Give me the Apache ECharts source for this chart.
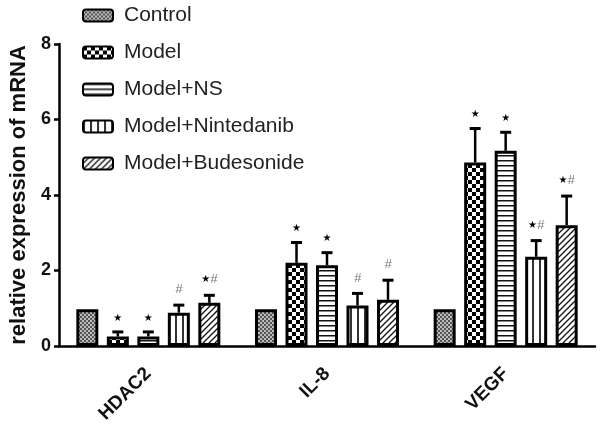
<!DOCTYPE html>
<html><head><meta charset="utf-8">
<script src="https://cdn.jsdelivr.net/npm/echarts@6/dist/echarts.min.js"></script>
<style>html,body{margin:0;padding:0;background:#fff}#c{width:600px;height:426px}</style>
</head><body><div id="c"></div>
<script>
var categories = ['HDAC2', 'IL-8', 'VEGF'];
var groupNames = ['Control', 'Model', 'Model+NS', 'Model+Nintedanib', 'Model+Budesonide'];
var controlMean = [0.97, 0.97, 0.97];
var modelMean = [0.25, 2.2, 4.86];
var nsMean = [0.25, 2.14, 5.17];
var nintMean = [0.88, 1.07, 2.36];
var budMean = [1.14, 1.22, 3.2];
var controlSd = [0, 0, 0];
var modelSd = [0.12, 0.54, 0.9];
var nsSd = [0.12, 0.33, 0.49];
var nintSd = [0.2, 0.32, 0.43];
var budSd = [0.2, 0.52, 0.77];
var controlMark = ['', '', ''];
var modelMark = ['*', '*', '*'];
var nsMark = ['*', '*', '*'];
var nintMark = ['#', '#', '*#'];
var budMark = ['*#', '#', '*#'];
var yTicks = [0, 2, 4, 6, 8];

var means = [controlMean, modelMean, nsMean, nintMean, budMean];
var sds = [controlSd, modelSd, nsSd, nintSd, budSd];
var marks = [controlMark, modelMark, nsMark, nintMark, budMark];

function pat(w, h, draw) {
  var c = document.createElement('canvas'); c.width = w; c.height = h;
  var g = c.getContext('2d'); g.fillStyle = '#fff'; g.fillRect(0, 0, w, h);
  draw(g); return { image: c, repeat: 'repeat' };
}
var patterns = [
  pat(4, 4, function (g) { g.fillStyle = '#555'; g.fillRect(0, 0, 2, 2); g.fillRect(2, 2, 2, 2); g.fillStyle = '#bbb'; g.fillRect(2, 0, 2, 2); g.fillRect(0, 2, 2, 2); }),
  pat(8, 8, function (g) { g.fillStyle = '#000'; g.fillRect(0, 0, 4, 4); g.fillRect(4, 4, 4, 4); }),
  pat(5, 5, function (g) { g.fillStyle = '#111'; g.fillRect(0, 0, 5, 1.5); }),
  pat(7, 7, function (g) { g.fillStyle = '#333'; g.fillRect(0, 0, 2, 7); }),
  pat(6, 6, function (g) { g.strokeStyle = '#111'; g.lineWidth = 1.3; g.beginPath(); g.moveTo(-1, 7); g.lineTo(7, -1); g.moveTo(-1, 1); g.lineTo(1, -1); g.moveTo(5, 7); g.lineTo(7, 5); g.stroke(); })
];

var BW = 22, GAP = 8.5;
var FONT = '"Liberation Sans", Arial, sans-serif';
var series = [];
groupNames.forEach(function (name, i) {
  series.push({
    name: name, type: 'bar', data: means[i], barWidth: BW, barGap: (GAP / BW * 100) + '%',
    itemStyle: { color: patterns[i], borderColor: '#000', borderWidth: 3 },
    emphasis: { disabled: true }
  });
});
groupNames.forEach(function (name, i) {
  var d = categories.map(function (c, k) { return [k, means[i][k], sds[i][k], marks[i][k]]; });
  series.push({
    type: 'custom', name: name + '_err', data: d, z: 5,
    renderItem: function (params, api) {
      var k = api.value(0), m = api.value(1), s = api.value(2);
      var mk = d[params.dataIndex][3];
      var off = (i - 2) * (BW + GAP);
      var p0 = api.coord([k, m]), p1 = api.coord([k, m + s]);
      var x = p0[0] + off;
      var ch = [];
      if (s > 0) {
        ch.push({ type: 'line', shape: { x1: x, y1: p0[1], x2: x, y2: p1[1] }, style: { stroke: '#000', lineWidth: 2.5 } });
        ch.push({ type: 'line', shape: { x1: x - 5.5, y1: p1[1], x2: x + 5.5, y2: p1[1] }, style: { stroke: '#000', lineWidth: 3 } });
      }
      if (mk) {
        var txt = mk.replace('*', '{s|\u2605}').replace('#', '{h|#}');
        ch.push({ type: 'text', x: x, y: p1[1] - 9, style: {
          text: txt, align: 'center', verticalAlign: 'bottom',
          rich: { s: { fontSize: 10, fill: '#000', fontFamily: '"DejaVu Sans"' }, h: { fontSize: 13, fill: '#777', fontStyle: 'italic', fontFamily: FONT } }
        } });
      }
      return { type: 'group', children: ch };
    }
  });
});

var chart = echarts.init(document.getElementById('c'), null, { renderer: 'canvas' });
chart.setOption({
  animation: false,
  backgroundColor: '#fff',
  grid: { left: 53, right: 5, top: 44, bottom: 78 },
  legend: {
    data: groupNames, orient: 'vertical', left: 77, top: 0, itemWidth: 30, itemHeight: 12, itemGap: 16,
    textStyle: { fontSize: 21, color: '#222', fontFamily: FONT, padding: [0, 0, 0, 6] },
    selectedMode: false
  },
  xAxis: {
    type: 'category', data: categories,
    axisLine: { lineStyle: { color: '#000', width: 2.5 } },
    axisTick: { alignWithLabel: true, length: 6, lineStyle: { color: '#000', width: 2.5 } },
    axisLabel: { rotate: 45, fontSize: 19, fontWeight: 'bold', color: '#111', fontFamily: FONT, margin: 25 }
  },
  yAxis: {
    type: 'value', min: yTicks[0], max: yTicks[yTicks.length - 1], interval: 2,
    name: 'relative expression of mRNA', nameLocation: 'middle', nameGap: 29,
    nameTextStyle: { fontSize: 22, fontWeight: 'bold', color: '#111', fontFamily: FONT },
    axisLine: { show: true, lineStyle: { color: '#000', width: 2.5 } },
    axisTick: { show: true, length: 5, lineStyle: { color: '#000', width: 2.5 } },
    axisLabel: { fontSize: 18, fontWeight: 'bold', color: '#111', fontFamily: FONT, margin: 8 },
    splitLine: { show: false }
  },
  series: series
});
</script></body></html>
